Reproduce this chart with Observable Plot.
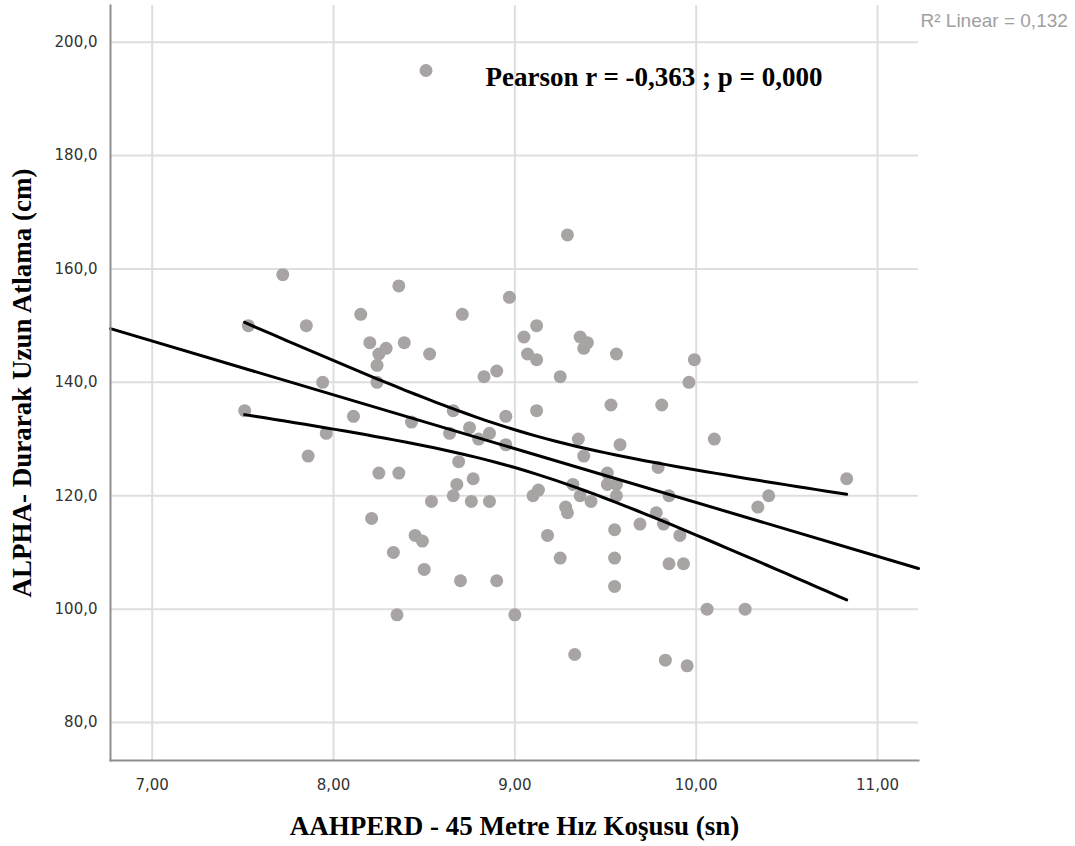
<!DOCTYPE html>
<html>
<head>
<meta charset="utf-8">
<script src="https://cdn.jsdelivr.net/npm/d3@7"></script>
<script src="https://cdn.jsdelivr.net/npm/@observablehq/plot@0.6"></script>
<style>
  html, body { margin: 0; padding: 0; background: #fff; }
  #chart svg { display: block; }
</style>
</head>
<body>
<div id="chart"></div>
<script>
// AAHPERD 45 m sprint time (s) for each participant
const sprint45 = [
  8.51, 7.72, 9.29, 8.36, 7.85, 8.15, 8.71, 8.97, 7.53, 8.20,
  8.39, 8.29, 8.25, 8.53, 8.24, 8.24, 7.94, 9.05, 9.12, 9.07,
  9.12, 8.90, 8.83, 9.25, 9.36, 9.40, 9.38, 9.56, 9.99, 9.96,
  9.53, 9.81, 10.10, 10.83, 10.40, 10.34, 7.51, 7.96, 8.11, 7.86,
  8.66, 9.12, 8.95, 8.64, 8.75, 8.80, 8.86, 8.95, 9.35, 9.38,
  9.58, 9.79, 8.69, 8.77, 8.68, 8.66, 8.76, 8.86, 8.54, 8.36,
  8.25, 9.10, 9.13, 9.32, 9.36, 9.42, 9.51, 9.51, 9.56, 9.56,
  9.28, 9.29, 9.85, 9.78, 9.82, 9.69, 9.55, 9.18, 8.45, 8.49,
  8.21, 8.33, 8.50, 9.25, 9.55, 9.85, 9.93, 9.91, 9.55, 8.70,
  8.90, 8.35, 9.00, 10.06, 10.27, 9.33, 9.83, 9.95, 8.43
];

// ALPHA standing long jump (cm) for the same participants
const standingJump = [
  195, 159, 166, 157, 150, 152, 152, 155, 150, 147,
  147, 146, 145, 145, 143, 140, 140, 148, 150, 145,
  144, 142, 141, 141, 148, 147, 146, 145, 144, 140,
  136, 136, 130, 123, 120, 118, 135, 131, 134, 127,
  135, 135, 134, 131, 132, 130, 131, 129, 130, 127,
  129, 125, 126, 123, 122, 120, 119, 119, 119, 124,
  124, 120, 121, 122, 120, 119, 124, 122, 122, 120,
  118, 117, 120, 117, 115, 115, 114, 113, 113, 112,
  116, 110, 107, 109, 109, 108, 108, 113, 104, 105,
  105, 99, 99, 100, 100, 92, 91, 90, 133
];

const xTicks = [7, 8, 9, 10, 11];
const yTicks = [80, 100, 120, 140, 160, 180, 200];

const xTitle = "AAHPERD - 45 Metre Hız Koşusu (sn)";
const yTitle = "ALPHA- Durarak Uzun Atlama (cm)";
const statText = "Pearson r = -0,363 ; p = 0,000";
const r2Text = "R² Linear = 0,132";

// Comma as decimal separator
const trLocale = d3.formatLocale({decimal: ",", thousands: ".", grouping: [3], currency: ["", ""]});
const fmtX = trLocale.format(".2f");
const fmtY = trLocale.format(".1f");

const points = sprint45.map((x, i) => ({x, y: standingJump[i]}));

// Ordinary least squares fit with a 95% confidence band for the mean
const n = points.length;
const xbar = d3.mean(points, d => d.x);
const ybar = d3.mean(points, d => d.y);
const sxx = d3.sum(points, d => (d.x - xbar) ** 2);
const sxy = d3.sum(points, d => (d.x - xbar) * (d.y - ybar));
const slope = sxy / sxx;
const intercept = ybar - slope * xbar;
const sse = d3.sum(points, d => (d.y - intercept - slope * d.x) ** 2);
const s = Math.sqrt(sse / (n - 2));
const tCrit = 1.985; // t(0.975, df = 97)

const xDomain = [6.77, 11.226];
const yDomain = [73.3, 206.47];

const fitLine = xDomain.map(x => ({x, y: intercept + slope * x}));
const [xmin, xmax] = d3.extent(points, d => d.x);
const band = d3.range(0, 61).map(i => {
  const x = xmin + (xmax - xmin) * i / 60;
  const yhat = intercept + slope * x;
  const half = tCrit * s * Math.sqrt(1 / n + (x - xbar) ** 2 / sxx);
  return {x, upper: yhat + half, lower: yhat - half};
});

const serif = "'Liberation Serif', 'Times New Roman', serif";

const chart = Plot.plot({
  width: 1075,
  height: 846,
  marginLeft: 110,
  marginRight: 157,
  marginTop: 5,
  marginBottom: 86,
  style: {fontFamily: "'DejaVu Sans', sans-serif", fontSize: "15px", background: "#fff"},
  x: {domain: xDomain},
  y: {domain: yDomain},
  marks: [
    Plot.gridX(xTicks, {stroke: "#dedede", strokeOpacity: 1, strokeWidth: 2}),
    Plot.gridY(yTicks, {stroke: "#dedede", strokeOpacity: 1, strokeWidth: 2}),
    Plot.axisX(xTicks, {tickSize: 0, tickPadding: 19, tickFormat: fmtX, label: null, fill: "#333", fontSize: 15}),
    Plot.axisY(yTicks, {tickSize: 0, tickPadding: 13, tickFormat: fmtY, label: null, fill: "#333", fontSize: 15}),
    Plot.dot(points, {x: "x", y: "y", r: 6.5, fill: "#a8a4a4"}),
    Plot.line(fitLine, {x: "x", y: "y", stroke: "#000", strokeWidth: 3}),
    Plot.line(band, {x: "x", y: "upper", stroke: "#000", strokeWidth: 3}),
    Plot.line(band, {x: "x", y: "lower", stroke: "#000", strokeWidth: 3}),
    Plot.frame({anchor: "left", stroke: "#8f8f8f", strokeWidth: 2}),
    Plot.frame({anchor: "bottom", stroke: "#8f8f8f", strokeWidth: 2}),
    Plot.text([statText], {
      frameAnchor: "top-left", textAnchor: "start", lineAnchor: "middle", dx: 375, dy: 72,
      fontFamily: serif, fontWeight: "bold", fontSize: 27, fill: "#000"
    }),
    Plot.text([r2Text], {
      frameAnchor: "top-right", textAnchor: "start", lineAnchor: "middle", dx: 2, dy: 15,
      fontFamily: "'Liberation Sans', sans-serif", fontSize: 19, fill: "#a0a0a0"
    }),
    Plot.text([xTitle], {
      frameAnchor: "bottom", textAnchor: "middle", lineAnchor: "middle", dy: 66,
      fontFamily: serif, fontWeight: "bold", fontSize: 27, fill: "#000"
    }),
    Plot.text([yTitle], {
      frameAnchor: "left", textAnchor: "middle", lineAnchor: "middle", dx: -88, rotate: -90,
      fontFamily: serif, fontWeight: "bold", fontSize: 27, fill: "#000"
    })
  ]
});

document.getElementById("chart").append(chart);
</script>
</body>
</html>
